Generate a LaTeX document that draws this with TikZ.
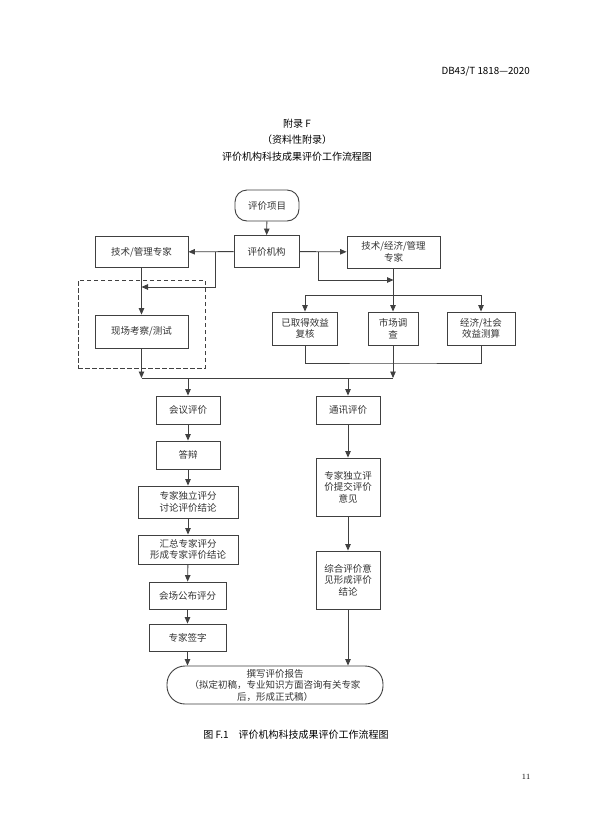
\documentclass[tikz,border=0pt]{standalone}
\usepackage{fontspec}
\usepackage{tikz}
\usepackage{xcolor}
\usetikzlibrary{arrows.meta,positioning,calc}
\newfontfamily\cjk{Noto Sans CJK SC}
\definecolor{ink}{HTML}{333333}
\definecolor{boxline}{HTML}{404040}
\tikzset{
  procbox/.style={draw=boxline,fill=white,line width=0.9pt,align=center,
                  inner sep=2pt,font=\cjk\fontsize{9.5}{11.5}\selectfont,text=ink},
  termbox/.style={procbox,rounded corners=12pt},
  reportbox/.style={procbox,rounded corners=18pt},
  grpbox/.style={draw=boxline,dashed,line width=0.9pt,dash pattern=on 4.5pt off 2.5pt},
  flowarr/.style={-{Triangle[length=6.5pt,width=5.5pt]},line width=0.9pt,draw=boxline},
  flowline/.style={line width=0.9pt,draw=boxline},
  headtext/.style={font=\cjk\fontsize{10}{12}\selectfont,text=black,inner sep=0pt}
}
\begin{document}
\begin{tikzpicture}[x=1pt,y=-1pt]
    \path[use as bounding box,fill=white] (0,0) rectangle (593,839);
    % page header and title
    \node[headtext,anchor=east,font=\cjk\fontsize{9.8}{11}\selectfont] (code) at (530,71) {DB43/T 1818—2020};
    \node[headtext] (app) at (297,124) {附录 F};
    \node[headtext] (inf) at (297,140) {（资料性附录）};
    \node[headtext] (ttl) at (297,157) {评价机构科技成果评价工作流程图};
    % top part
    \node[termbox,minimum width=64pt,minimum height=31pt] (item) at (267,205.5) {评价项目};
    \node[procbox,minimum width=65pt,minimum height=32pt] (org) at (266.5,251.5) {评价机构};
    \node[procbox,minimum width=93pt,minimum height=31pt] (tech) at (141.5,252) {技术/管理专家};
    \node[procbox,minimum width=93pt,minimum height=32pt] (econ) at (393.5,252) {技术/经济/管理\\专家};
    \node[grpbox,minimum width=127pt,minimum height=88pt] (grp) at (141.5,324) {};
    \node[procbox,minimum width=93pt,minimum height=33pt] (site) at (141.5,331.5) {现场考察/测试};
    \node[procbox,minimum width=65pt,minimum height=33pt] (gain) at (305,328.5) {已取得效益\\复核};
    \node[procbox,minimum width=50pt,minimum height=33pt] (mkt) at (393,328.5) {市场调\\查};
    \node[procbox,minimum width=68pt,minimum height=33pt] (calc) at (481,328.5) {经济/社会\\效益测算};
    % left column
    \node[procbox,minimum width=64pt,minimum height=28pt] (meet) at (188,410) {会议评价};
    \node[procbox,minimum width=64pt,minimum height=28pt] (reply) at (188,455) {答辩};
    \node[procbox,minimum width=100pt,minimum height=32pt] (score) at (188,502) {专家独立评分\\讨论评价结论};
    \node[procbox,minimum width=100pt,minimum height=29pt] (sum) at (188,549.5) {汇总专家评分\\形成专家评价结论};
    \node[procbox,minimum width=77pt,minimum height=27pt] (pub) at (187.5,595.5) {会场公布评分};
    \node[procbox,minimum width=77pt,minimum height=27pt] (sign) at (187.5,637.5) {专家签字};
    % right column
    \node[procbox,minimum width=64pt,minimum height=28pt] (comm) at (348,410) {通讯评价};
    \node[procbox,minimum width=64pt,minimum height=58pt] (indep) at (348,487) {专家独立评\\价提交评价\\意见};
    \node[procbox,minimum width=64pt,minimum height=58pt] (synth) at (348,580) {综合评价意\\见形成评价\\结论};
    \node[reportbox,minimum width=216pt,minimum height=38pt] (report) at (275,685)
      {撰写评价报告\\（拟定初稿，专业知识方面咨询有关专家\\后，形成正式稿）};
    % junctions
    \coordinate (bl) at (215,251.5);
    \coordinate (bl2) at (215,287);
    \coordinate (br) at (318,251.5);
    \coordinate (br2) at (318,280);
    \coordinate (h1) at (305,295);
    \coordinate (h2) at (481,295);
    \coordinate (j1) at (393,363);
    \coordinate (busL) at (141.5,378);
    \coordinate (busR) at (393,378);
    % connectors
    \draw[flowarr] (item) -- (org);
    \draw[flowarr] (org) -- (tech);
    \draw[flowarr] (org) -- (econ);
    \draw[flowarr] (bl) -- (bl2) -- (tech.south |- bl2);
    \draw[flowarr] (br) -- (br2) -- (econ.south |- br2);
    \draw[flowarr] (tech) -- (site);
    \draw[flowarr] (econ.south -| mkt) -- (mkt);
    \draw[flowline] (h1) -- (h2);
    \draw[flowarr] (h1) -- (gain);
    \draw[flowarr] (h2) -- (calc);
    \draw[flowline] (gain.south) |- (j1) -| (calc.south);
    \draw[flowline] (busL) -- (busR);
    \draw[flowarr] (site) -- (busL);
    \draw[flowarr] (mkt) -- (busR);
    \draw[flowarr] (meet |- busL) -- (meet);
    \draw[flowarr] (comm |- busL) -- (comm);
    \draw[flowarr] (meet) -- (reply);
    \draw[flowarr] (reply) -- (score);
    \draw[flowarr] (score) -- (sum);
    \draw[flowarr] (sum) -- (pub);
    \draw[flowarr] (pub) -- (sign);
    \draw[flowarr] (sign.south) -- (sign.south |- report.north);
    \draw[flowarr] (comm) -- (indep);
    \draw[flowarr] (indep) -- (synth);
    \draw[flowarr] (synth.south) -- (synth.south |- report.north);
    % caption and page number
    \node[headtext] (cap) at (296,735) {图 F.1\quad 评价机构科技成果评价工作流程图};
    \node[inner sep=0pt,font=\fontsize{8}{9}\selectfont] (pg) at (526,777) {11};
  \end{tikzpicture}
\end{document}
